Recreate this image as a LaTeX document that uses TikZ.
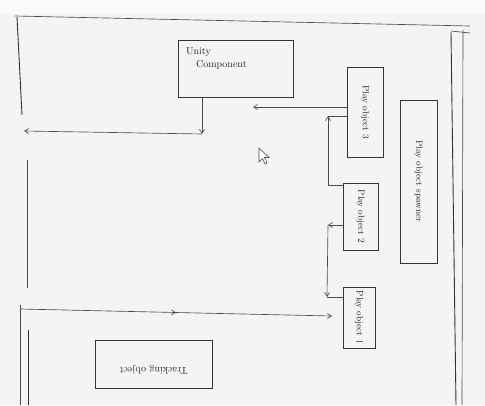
\documentclass[tikz,border=0pt]{standalone}
\usetikzlibrary{arrows.meta,decorations.markings,calc}
\begin{document}
\begin{tikzpicture}[x=1pt,y=-1pt,
  ink/.style={draw=black!80, line width=0.9pt},
  thin ink/.style={draw=black!70, line width=0.65pt},
  sketchbox/.style={ink, inner sep=0pt},
  lbl/.style={font=\small, text=black!85},
  arr/.style={thin ink, -{Straight Barb[length=4pt,width=5pt]}},
  midarr/.style={thin ink, postaction={decorate}, decoration={markings,
     mark=at position 0.5 with {\arrow{Straight Barb[length=4pt,width=5pt]}}}}]
\useasboundingbox (0,0) rectangle (485,405);
\fill[gray!9] (0,0) rectangle (485,405);
\fill[white!96!gray] (0,0) rectangle (485,14);
% paper frame lines
\draw[thin ink] (15,16) -- (470,26);
\draw[ink] (17,17) -- (22,115);
\draw[thin ink] (27,160) -- (27,288);
\draw[thin ink] (20,305) -- (20,405);
\draw[ink] (28,330) -- (28,405);
\draw[ink] (451,32) -- (456,405);
\draw[thin ink] (463,30) -- (462,405);
\draw[thin ink] (451,31) -- (470,33);
% boxes
\node[sketchbox, minimum width=115pt, minimum height=57pt] (uc) at (235.5,68.5) {};
\node[lbl, font=\normalsize, anchor=north west, align=left] at ($(uc.north west)+(5,5)$) {Unity\\[1pt]\hspace*{10pt}Component};
\node[sketchbox, minimum width=36pt, minimum height=90pt] (b1) at (365,112) {};
\node[rotate=-90, lbl] at (b1.center) {Play object 3};
\node[sketchbox, minimum width=35pt, minimum height=67pt] (b2) at (360.5,216.5) {};
\node[rotate=-90, lbl] at (b2.center) {Play object 2};
\node[sketchbox, minimum width=32pt, minimum height=61pt] (b3) at (359,317.5) {};
\node[rotate=-90, lbl] at (b3.center) {Play object 1};
\node[sketchbox, minimum width=37pt, minimum height=163pt] (sp) at (418.5,181.5) {};
\node[rotate=-90, lbl] at (sp.center) {Play object spawner};
\node[sketchbox, minimum width=117pt, minimum height=48pt] (tr) at (153.5,364) {};
\node[rotate=180, lbl, font=\normalsize] at ($(tr.center)+(0,6)$) {Tracking object};
% connectors
\coordinate (j) at (202,134);
\coordinate (lend) at (24,131);
\coordinate (ret) at (253,107);
\coordinate (c1) at (328,116);
\coordinate (c2) at (328,225);
\coordinate (c3) at (327,297);
\coordinate (start) at (20,309);
\coordinate (bend) at (332,316);
\draw[arr] (uc.south -| j) -- (j);
\draw[arr] (j) -- (lend);
\draw[arr] (b1.west |- ret) -- (ret);
\draw[arr] (b2.west |- 0,185) -| (c1);
\draw[thin ink] (c1) -- (b1.west |- c1);
\draw[arr] (b2.west |- c2) -- (c2);
\draw[arr] (c2) -- (c3);
\draw[thin ink] (c3) -- (b3.west |- c3);
\draw[midarr, -{Straight Barb[length=4pt,width=5pt]}] (start) -- (bend);
% mouse pointer
\draw[black!70, line width=0.6pt, fill=white] (259,148) -- (259,162) -- (262.5,158.5) -- (265,164) -- (267,163) -- (264.5,157.5) -- (269,157.5) -- cycle;
\end{tikzpicture}
\end{document}
